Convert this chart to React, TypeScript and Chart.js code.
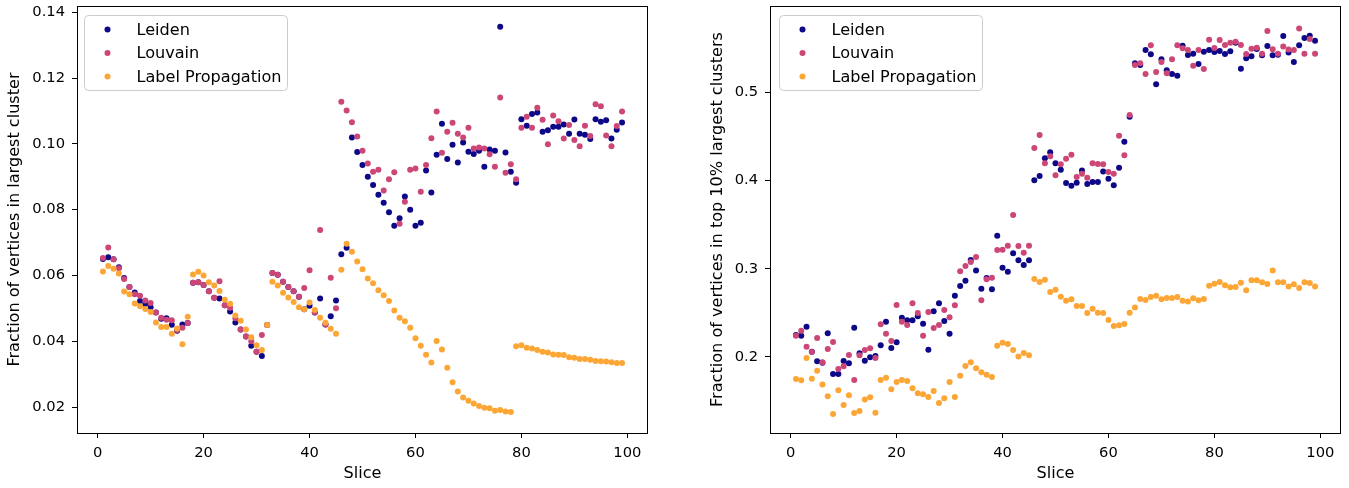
import React, { useEffect, useRef } from "react";
import { Chart, registerables } from "chart.js";

Chart.register(...registerables);

// ---------- data ----------
const slices = [
  1, 2, 3, 4, 5, 6, 7, 8, 9, 10, 11, 12, 13, 14, 15, 16, 17, 18, 19, 20,
  21, 22, 23, 24, 25, 26, 27, 28, 29, 30, 31, 32, 33, 34, 35, 36, 37, 38, 39, 40,
  41, 42, 43, 44, 45, 46, 47, 48, 49, 50, 51, 52, 53, 54, 55, 56, 57, 58, 59, 60,
  61, 62, 63, 64, 65, 66, 67, 68, 69, 70, 71, 72, 73, 74, 75, 76, 77, 78, 79, 80,
  81, 82, 83, 84, 85, 86, 87, 88, 89, 90, 91, 92, 93, 94, 95, 96, 97, 98, 99,
];

// Left panel: fraction of vertices in largest cluster
const leidenLargest = [
  0.0650, 0.0655, 0.0649, 0.0625, 0.0592, 0.0565, 0.0548, 0.0522, 0.0513, 0.0503,
  0.0487, 0.0468, 0.0470, 0.0450, 0.0432, 0.0451, 0.0455, 0.0578, 0.0579, 0.0571,
  0.0552, 0.0532, 0.0530, 0.0509, 0.0490, 0.0457, 0.0436, 0.0414, 0.0386, 0.0368,
  0.0355, 0.0449, 0.0607, 0.0602, 0.0581, 0.0565, 0.0552, 0.0535, 0.0497, 0.0508,
  0.0487, 0.0530, 0.0451, 0.0476, 0.0524, 0.0664, 0.0684, 0.1019, 0.0975, 0.0936,
  0.0900, 0.0875, 0.0845, 0.0821, 0.0792, 0.0751, 0.0774, 0.0840, 0.0800, 0.0751,
  0.0760, 0.0919, 0.0852, 0.0967, 0.1061, 0.0954, 0.0997, 0.0943, 0.1004, 0.0976,
  0.0969, 0.0979, 0.0930, 0.0983, 0.0979, 0.1356, 0.0974, 0.0915, 0.0882, 0.1075,
  0.1055, 0.1091, 0.1095, 0.1037, 0.1041, 0.1052, 0.1052, 0.1059, 0.1031, 0.1074,
  0.1031, 0.1028, 0.1015, 0.1075, 0.1067, 0.1072, 0.1016, 0.1043, 0.1065,
];
const louvainLargest = [
  0.0653, 0.0685, 0.0649, 0.0622, 0.0589, 0.0565, 0.0543, 0.0538, 0.0524, 0.0516,
  0.0487, 0.0471, 0.0465, 0.0464, 0.0434, 0.0441, 0.0455, 0.0578, 0.0579, 0.0571,
  0.0552, 0.0532, 0.0582, 0.0509, 0.0502, 0.0470, 0.0436, 0.0414, 0.0400, 0.0368,
  0.0419, 0.0449, 0.0607, 0.0602, 0.0581, 0.0565, 0.0552, 0.0535, 0.0562, 0.0616,
  0.0487, 0.0738, 0.0451, 0.0593, 0.0500, 0.1128, 0.1101, 0.1066, 0.1022, 0.0979,
  0.0940, 0.0915, 0.0921, 0.0858, 0.0892, 0.0914, 0.0757, 0.0824, 0.0921, 0.0925,
  0.0854, 0.0936, 0.1017, 0.1098, 0.0973, 0.1037, 0.1064, 0.1031, 0.1019, 0.1049,
  0.0986, 0.0989, 0.0986, 0.0968, 0.0930, 0.1141, 0.0912, 0.0938, 0.0892, 0.1049,
  0.1082, 0.1049, 0.1110, 0.1073, 0.0999, 0.1086, 0.1069, 0.1016, 0.1057, 0.1012,
  0.0993, 0.1055, 0.1024, 0.1120, 0.1114, 0.1025, 0.0993, 0.1054, 0.1098,
];
const labelPropLargest = [
  0.0612, 0.0629, 0.0620, 0.0606, 0.0551, 0.0543, 0.0515, 0.0506, 0.0498, 0.0489,
  0.0457, 0.0443, 0.0443, 0.0423, 0.0439, 0.0391, 0.0474, 0.0603, 0.0611, 0.0600,
  0.0579, 0.0569, 0.0553, 0.0526, 0.0514, 0.0478, 0.0462, 0.0436, 0.0412, 0.0388,
  0.0373, 0.0449, 0.0581, 0.0569, 0.0547, 0.0533, 0.0519, 0.0503, 0.0497, 0.0518,
  0.0495, 0.0471, 0.0456, 0.0438, 0.0423, 0.0617, 0.0696, 0.0672, 0.0642, 0.0619,
  0.0591, 0.0576, 0.0555, 0.0540, 0.0522, 0.0493, 0.0471, 0.0461, 0.0441, 0.0409,
  0.0386, 0.0359, 0.0335, 0.0401, 0.0375, 0.0319, 0.0275, 0.0247, 0.0229, 0.0219,
  0.0211, 0.0203, 0.0198, 0.0196, 0.0189, 0.0191, 0.0186, 0.0185, 0.0385, 0.0388,
  0.0380, 0.0378, 0.0373, 0.0368, 0.0366, 0.0360, 0.0359, 0.0358, 0.0351, 0.0350,
  0.0346, 0.0346, 0.0344, 0.0340, 0.0339, 0.0338, 0.0336, 0.0334, 0.0334,
];

// Right panel: fraction of vertices in top 10% largest clusters
const leidenTop10 = [
  0.2249, 0.2241, 0.2343, 0.2060, 0.1951, 0.1936, 0.2268, 0.1807, 0.1807, 0.1955,
  0.1929, 0.2332, 0.2042, 0.1958, 0.1996, 0.2011, 0.2132, 0.2400, 0.2102, 0.2166,
  0.2445, 0.2415, 0.2415, 0.2461, 0.2377, 0.2083, 0.2517, 0.2608, 0.2408, 0.2264,
  0.2694, 0.2804, 0.2864, 0.3099, 0.2978, 0.2774, 0.2895, 0.2767, 0.3374, 0.3011,
  0.2966, 0.3174, 0.3095, 0.3042, 0.3095, 0.4001, 0.4050, 0.4250, 0.4318, 0.4193,
  0.4121, 0.3970, 0.3940, 0.3974, 0.4113, 0.3959, 0.3982, 0.3982, 0.4102, 0.4019,
  0.3944, 0.4144, 0.4438, 0.4722, 0.5326, 0.5306, 0.5477, 0.5428, 0.5088, 0.5371,
  0.5246, 0.5205, 0.5186, 0.5526, 0.5420, 0.5435, 0.5318, 0.5458, 0.5477, 0.5454,
  0.5465, 0.5431, 0.5462, 0.5560, 0.5265, 0.5382, 0.5405, 0.5488, 0.5416, 0.5522,
  0.5416, 0.5424, 0.5635, 0.5447, 0.5341, 0.5530, 0.5613, 0.5639, 0.5582,
];
const louvainTop10 = [
  0.2241, 0.2298, 0.2117, 0.2057, 0.2215, 0.1940, 0.2091, 0.2170, 0.1864, 0.1894,
  0.2023, 0.1740, 0.2020, 0.2079, 0.2098, 0.1989, 0.2370, 0.2264, 0.2181, 0.2589,
  0.2400, 0.2362, 0.2608, 0.2498, 0.2241, 0.2510, 0.2328, 0.2362, 0.2532, 0.2449,
  0.2585, 0.2970, 0.3031, 0.3076, 0.3133, 0.2642, 0.2880, 0.2898, 0.3212, 0.3215,
  0.3261, 0.3608, 0.3257, 0.3181, 0.3261, 0.4367, 0.4514, 0.4193, 0.4273, 0.4058,
  0.4182, 0.4246, 0.4291, 0.4038, 0.4076, 0.4031, 0.4193, 0.4186, 0.4182, 0.4095,
  0.4076, 0.4506, 0.4284, 0.4741, 0.5306, 0.5326, 0.5205, 0.5530, 0.5227, 0.5341,
  0.5212, 0.5371, 0.5530, 0.5496, 0.5477, 0.5299, 0.5477, 0.5261, 0.5594, 0.5500,
  0.5590, 0.5534, 0.5560, 0.5571, 0.5534, 0.5431, 0.5492, 0.5503, 0.5435, 0.5692,
  0.5484, 0.5435, 0.5515, 0.5481, 0.5477, 0.5719, 0.5435, 0.5601, 0.5435,
];
const labelPropTop10 = [
  0.1751, 0.1736, 0.1989, 0.1754, 0.1845, 0.1688, 0.1555, 0.1354, 0.1623, 0.1456,
  0.1566, 0.1366, 0.1389, 0.1517, 0.1543, 0.1367, 0.1740, 0.1766, 0.1634, 0.1717,
  0.1740, 0.1728, 0.1645, 0.1589, 0.1577, 0.1547, 0.1615, 0.1480, 0.1532, 0.1717,
  0.1547, 0.1788, 0.1898, 0.1940, 0.1872, 0.1826, 0.1800, 0.1774, 0.2128, 0.2162,
  0.2147, 0.2079, 0.2004, 0.2045, 0.2019, 0.2883, 0.2849, 0.2876, 0.2736, 0.2762,
  0.2683, 0.2638, 0.2653, 0.2578, 0.2578, 0.2498, 0.2547, 0.2502, 0.2498, 0.2419,
  0.2351, 0.2358, 0.2374, 0.2502, 0.2559, 0.2657, 0.2646, 0.2680, 0.2694, 0.2653,
  0.2668, 0.2668, 0.2680, 0.2638, 0.2627, 0.2664, 0.2642, 0.2657, 0.2808, 0.2830,
  0.2849, 0.2812, 0.2789, 0.2793, 0.2842, 0.2755, 0.2868, 0.2868, 0.2846, 0.2827,
  0.2978, 0.2846, 0.2846, 0.2797, 0.2823, 0.2781, 0.2846, 0.2838, 0.2797,
];

const seriesNames = ["Leiden", "Louvain", "Label Propagation"];
const seriesColors = ["#0d0887", "#cc4778", "#fca636"];

const xTicks = [0, 20, 40, 60, 80, 100];
const leftYTicks = [0.02, 0.04, 0.06, 0.08, 0.1, 0.12, 0.14];
const rightYTicks = [0.2, 0.3, 0.4, 0.5];

const leftTitle = "Fraction of vertices in largest cluster";
const rightTitle = "Fraction of vertices in top 10% largest clusters";
const xTitle = "Slice";

// ---------- styling ----------
const FONT_FAMILY = "'DejaVu Sans', 'Liberation Sans', sans-serif";
const TICK_FONT_SIZE = 14.7;
const LABEL_FONT_SIZE = 16.1;
const POINT_RADIUS = 3;

function makeFrameLegendPlugin(legendOffset: number) {
  return {
    id: "frameLegend",
    afterDraw(chart: any) {
      const { ctx, chartArea: a } = chart;
      ctx.save();
      // full box frame
      ctx.strokeStyle = "#000";
      ctx.lineWidth = 1;
      ctx.strokeRect(
        Math.round(a.left) + 0.5,
        Math.round(a.top) + 0.5,
        Math.round(a.right) - Math.round(a.left) - 1,
        Math.round(a.bottom) - Math.round(a.top)
      );
      // legend
      const bx = Math.round(a.left) + legendOffset + 0.5;
      const by = Math.round(a.top) + 9.5;
      const bw = 203;
      const bh = 75;
      ctx.beginPath();
      if ((ctx as any).roundRect) {
        (ctx as any).roundRect(bx, by, bw, bh, 4);
      } else {
        ctx.rect(bx, by, bw, bh);
      }
      ctx.fillStyle = "rgba(255,255,255,0.8)";
      ctx.fill();
      ctx.strokeStyle = "#cccccc";
      ctx.stroke();
      const rows = [14, 37.5, 61];
      ctx.font = `${LABEL_FONT_SIZE}px ${FONT_FAMILY}`;
      ctx.textBaseline = "middle";
      ctx.textAlign = "left";
      seriesNames.forEach((name, i) => {
        const cy = by + rows[i];
        ctx.beginPath();
        ctx.arc(bx + 23, cy, POINT_RADIUS, 0, Math.PI * 2);
        ctx.fillStyle = seriesColors[i];
        ctx.fill();
        ctx.fillStyle = "#000";
        ctx.fillText(name, bx + 52, cy + 1);
      });
      ctx.restore();
    },
  };
}

type PanelProps = {
  left: number;
  width: number;
  yAxisWidth: number;
  padRight: number;
  legendOffset: number;
  yMin: number;
  yMax: number;
  yTicks: number[];
  yDecimals: number;
  yTitle: string;
  series: number[][];
};

function Panel(props: PanelProps) {
  const ref = useRef<HTMLCanvasElement | null>(null);
  useEffect(() => {
    if (!ref.current) return;
    const tickFont = { family: FONT_FAMILY, size: TICK_FONT_SIZE };
    const labelFont = { family: FONT_FAMILY, size: LABEL_FONT_SIZE };
    const datasets = props.series.map((vals, i) => ({
      label: seriesNames[i],
      data: slices.map((s, j) => ({ x: s, y: vals[j] })),
      backgroundColor: seriesColors[i],
      borderColor: seriesColors[i],
      pointRadius: POINT_RADIUS,
      pointHoverRadius: POINT_RADIUS,
      pointBorderWidth: 0,
      showLine: false,
      order: 3 - i,
    }));
    const chart = new Chart(ref.current, {
      type: "scatter",
      data: { datasets },
      options: {
        animation: false,
        responsive: false,
        maintainAspectRatio: false,
        events: [],
        layout: {
          autoPadding: false,
          padding: { top: 6, right: props.padRight, left: 0, bottom: 0 },
        },
        plugins: { legend: { display: false }, tooltip: { enabled: false } },
        scales: {
          x: {
            type: "linear",
            min: -3.9,
            max: 103.9,
            afterBuildTicks: (s: any) => {
              s.ticks = xTicks.map((v) => ({ value: v }));
            },
            afterFit: (s: any) => {
              s.height = 55;
              s.paddingLeft = 0;
              s.paddingRight = 0;
              s.paddingTop = 0;
              s.paddingBottom = 0;
            },
            ticks: {
              autoSkip: false,
              maxRotation: 0,
              padding: 6,
              color: "#000",
              font: tickFont,
              callback: (v: any) => String(v),
            },
            grid: { drawOnChartArea: false, color: "#000", tickLength: 5, lineWidth: 1 },
            border: { display: false },
            title: {
              display: true,
              text: xTitle,
              color: "#000",
              font: labelFont,
              padding: { top: 5, bottom: 5 },
            },
          },
          y: {
            type: "linear",
            min: props.yMin,
            max: props.yMax,
            afterBuildTicks: (s: any) => {
              s.ticks = props.yTicks.map((v) => ({ value: v }));
            },
            afterFit: (s: any) => {
              s.width = props.yAxisWidth;
              s.paddingLeft = 0;
              s.paddingRight = 0;
              s.paddingTop = 0;
              s.paddingBottom = 0;
            },
            ticks: {
              autoSkip: false,
              padding: 7,
              color: "#000",
              font: tickFont,
              callback: (v: any) => Number(v).toFixed(props.yDecimals),
            },
            grid: { drawOnChartArea: false, color: "#000", tickLength: 5, lineWidth: 1 },
            border: { display: false },
            title: {
              display: true,
              text: props.yTitle,
              color: "#000",
              font: labelFont,
              padding: { top: 5, bottom: 5 },
            },
          },
        },
      },
      plugins: [makeFrameLegendPlugin(props.legendOffset)],
    } as any);
    return () => chart.destroy();
  }, []);
  return (
    <canvas
      ref={ref}
      width={props.width}
      height={488}
      style={{ position: "absolute", left: props.left, top: 0, width: props.width, height: 488 }}
    />
  );
}

export default function App() {
  return (
    <div
      style={{
        position: "fixed",
        left: 0,
        top: 0,
        width: 1349,
        height: 488,
        background: "#fff",
        overflow: "hidden",
      }}
    >
      <Panel
        left={0}
        width={660}
        yAxisWidth={77}
        padRight={12}
        legendOffset={7}
        yMin={0.0121}
        yMax={0.1419}
        yTicks={leftYTicks}
        yDecimals={2}
        yTitle={leftTitle}
        series={[leidenLargest, louvainLargest, labelPropLargest]}
      />
      <Panel
        left={703}
        width={646}
        yAxisWidth={67}
        padRight={8}
        legendOffset={9}
        yMin={0.1139}
        yMax={0.5975}
        yTicks={rightYTicks}
        yDecimals={1}
        yTitle={rightTitle}
        series={[leidenTop10, louvainTop10, labelPropTop10]}
      />
    </div>
  );
}
